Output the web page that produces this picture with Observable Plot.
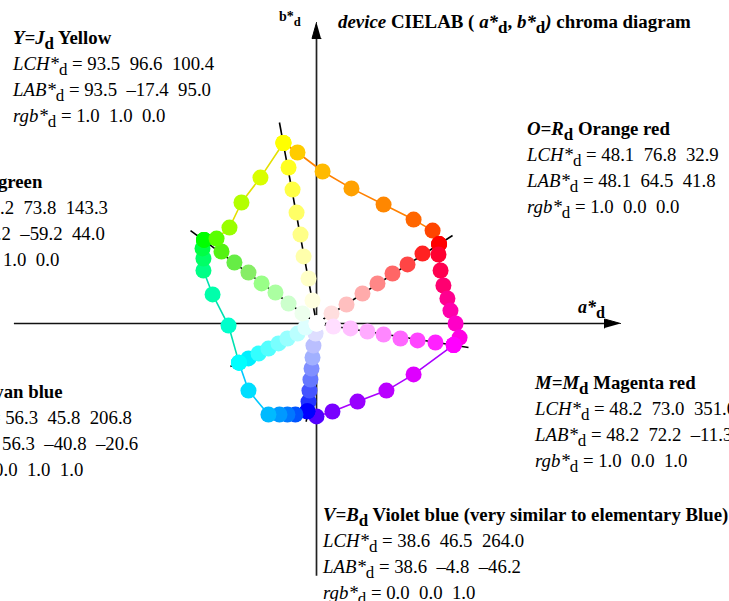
<!DOCTYPE html>
<html>
<head>
<meta charset="utf-8">
<script src="https://cdn.jsdelivr.net/npm/d3@7"></script>
<script src="https://cdn.jsdelivr.net/npm/@observablehq/plot@0.6"></script>
<style>
  body { margin: 0; background: #fff; }
  #chart { width: 729px; height: 601px; overflow: hidden; }
</style>
</head>
<body>
<div id="chart"></div>
<script>
// Device CIELAB chroma diagram (a*_d, b*_d).
// Every point: [a*, b*, r, g, b] with r, g, b the device colour rgb*_d.

// Outer edges between neighbouring device hues
const edgeYellowOrange = [
  [-17.4, 95.0, 1, 1, 0],
  [-10.0, 90.0, 1, 0.80, 0],
  [3.2, 80.0, 1, 0.73, 0],
  [18.4, 71.1, 1, 0.63, 0],
  [35.3, 62.6, 1, 0.53, 0],
  [51.1, 54.7, 1, 0.40, 0],
  [61.1, 48.9, 1, 0.27, 0],
  [64.5, 41.8, 1, 0, 0]
];
const edgeOrangeMagenta = [
  [64.5, 41.8, 1, 0, 0],
  [64.2, 36.3, 1, 0, 0.19],
  [65.3, 27.9, 1, 0, 0.31],
  [66.8, 20.0, 1, 0, 0.44],
  [68.9, 13.2, 1, 0, 0.56],
  [70.5, 6.8, 1, 0, 0.67],
  [73.2, 0.0, 1, 0, 0.78],
  [75.3, -7.4, 1, 0, 0.89],
  [72.2, -11.3, 1, 0, 1]
];
const edgeMagentaViolet = [
  [72.2, -11.3, 1, 0, 1],
  [51.1, -26.8, 0.87, 0, 1],
  [36.8, -35.3, 0.73, 0, 1],
  [21.6, -41.1, 0.60, 0, 1],
  [8.4, -46.3, 0.47, 0, 1],
  [0.0, -48.9, 0.33, 0, 1],
  [-4.8, -46.2, 0, 0, 1]
];
const edgeVioletCyan = [
  [-4.8, -46.2, 0, 0, 1],
  [-11.1, -47.9, 0, 0.33, 1],
  [-15.3, -47.9, 0, 0.47, 1],
  [-19.5, -47.9, 0, 0.60, 1],
  [-25.3, -47.9, 0, 0.73, 1],
  [-35.8, -35.3, 0, 0.87, 1],
  [-40.8, -20.6, 0, 1, 1]
];
const edgeCyanLeaf = [
  [-40.8, -20.6, 0, 1, 1],
  [-46.3, -1.1, 0, 1, 0.80],
  [-54.7, 15.3, 0, 1, 0.67],
  [-59.5, 27.9, 0, 1, 0.53],
  [-59.5, 34.2, 0, 1, 0.40],
  [-60.0, 39.5, 0, 1, 0.27],
  [-59.2, 44.0, 0, 1, 0]
];
const edgeLeafYellow = [
  [-59.2, 44.0, 0, 1, 0],
  [-52.6, 44.7, 0.35, 1, 0],
  [-45.8, 50.5, 0.60, 1, 0],
  [-39.5, 63.7, 0.70, 1, 0],
  [-29.5, 76.8, 0.85, 1, 0],
  [-17.4, 95.0, 1, 1, 0]
];

// Spokes from each device hue to white
const spokeYellow = [
  [-17.4, 95.0, 1, 1, 0],
  [-14.7, 82.1, 1, 1, 0.13],
  [-12.6, 70.5, 1, 1, 0.27],
  [-10.5, 58.4, 1, 1, 0.40],
  [-8.4, 46.8, 1, 1, 0.53],
  [-6.8, 35.3, 1, 1, 0.67],
  [-4.2, 23.7, 1, 1, 0.78],
  [-2.1, 12.1, 1, 1, 0.88],
  [0.0, 0.0, 1, 1, 1]
];
const spokeOrange = [
  [64.5, 41.8, 1, 0, 0],
  [55.8, 36.8, 1, 0.13, 0.13],
  [47.9, 31.1, 1, 0.27, 0.27],
  [40.0, 26.3, 1, 0.40, 0.40],
  [32.1, 21.1, 1, 0.53, 0.53],
  [24.2, 15.8, 1, 0.67, 0.67],
  [15.8, 10.0, 1, 0.75, 0.75],
  [7.9, 5.3, 1, 0.87, 0.87],
  [0.0, 0.0, 1, 1, 1]
];
const spokeMagenta = [
  [72.2, -11.3, 1, 0, 1],
  [62.6, -10.0, 1, 0.13, 1],
  [53.2, -8.9, 1, 0.27, 1],
  [44.2, -7.9, 1, 0.40, 1],
  [35.3, -5.8, 1, 0.53, 1],
  [26.8, -4.2, 1, 0.67, 1],
  [17.9, -2.6, 1, 0.75, 1],
  [8.9, -1.6, 1, 0.87, 1],
  [0.0, 0.0, 1, 1, 1]
];
const spokeViolet = [
  [-4.8, -46.2, 0, 0, 1],
  [-4.2, -41.1, 0.13, 0.20, 1],
  [-3.7, -35.3, 0.27, 0.33, 1],
  [-3.2, -29.5, 0.40, 0.47, 1],
  [-2.6, -23.7, 0.50, 0.56, 1],
  [-2.1, -17.9, 0.63, 0.69, 1],
  [-1.6, -11.6, 0.73, 0.75, 1],
  [-0.5, -5.3, 0.87, 0.87, 1],
  [0.0, 0.0, 1, 1, 1]
];
const spokeCyan = [
  [-40.8, -20.6, 0, 1, 1],
  [-35.8, -18.4, 0, 0.94, 1],
  [-30.5, -15.8, 0.20, 1, 1],
  [-25.3, -13.2, 0.33, 1, 1],
  [-20.0, -10.5, 0.47, 1, 1],
  [-15.3, -7.9, 0.60, 1, 1],
  [-10.0, -5.3, 0.73, 1, 1],
  [-5.8, -2.1, 0.87, 1, 1],
  [0.0, 0.0, 1, 1, 1]
];
const spokeLeaf = [
  [-59.2, 44.0, 0, 1, 0],
  [-50.0, 37.9, 0.33, 0.95, 0.07],
  [-43.2, 32.1, 0.40, 0.93, 0.27],
  [-35.8, 26.8, 0.53, 0.93, 0.40],
  [-28.9, 21.1, 0.60, 1, 0.53],
  [-21.6, 16.3, 0.67, 1, 0.63],
  [-14.7, 10.5, 0.80, 1, 0.80],
  [-7.4, 5.3, 0.93, 1, 0.93],
  [0.0, 0.0, 1, 1, 1]
];

// Hue lines from the origin through each device hue (end point a*, b*)
const hueLineEnds = [
  [-19.5, 105.8], [71.6, 46.3], [80.0, -12.6],
  [-5.4, -51.7], [-45.3, -22.6], [-66.3, 48.9]
];

// Edge line colours, in the order of the edges above
const edgeColors = ["#ff8000", "#ff0080", "#aa00ff", "#00c8ff", "#00e0b0", "#e4e000"];

// Axis extents (a*, b*)
const aAxis = [-159, 160];
const bAxis = [-133, 158.4];

// Text blocks: code, name, LCH*, LAB*, rgb*
const labelYellow  = ["Y=J", "Yellow", "93.5  96.6  100.4", "93.5  \u201317.4  95.0", "1.0  1.0  0.0"];
const labelOrange  = ["O=R", "Orange red", "48.1  76.8  32.9", "48.1  64.5  41.8", "1.0  0.0  0.0"];
const labelMagenta = ["M=M", "Magenta red", "48.2  73.0  351.0", "48.2  72.2  \u201311.3", "1.0  0.0  1.0"];
const labelViolet  = ["V=B", "Violet blue (very similar to elementary Blue)", "38.6  46.5  264.0", "38.6  \u20134.8  \u201346.2", "0.0  0.0  1.0"];
const labelCyan    = ["C=C", "Cyan blue", "56.3  45.8  206.8", "56.3  \u201340.8  \u201320.6", "0.0  1.0  1.0"];
const labelLeaf    = ["L=G", "Leaf green", "50.2  73.8  143.3", "50.2  \u201359.2  44.0", "0.0  1.0  0.0"];

const edges = [edgeYellowOrange, edgeOrangeMagenta, edgeMagentaViolet, edgeVioletCyan, edgeCyanLeaf, edgeLeafYellow];
const spokes = [spokeYellow, spokeOrange, spokeMagenta, spokeViolet, spokeCyan, spokeLeaf];

const toColor = d => `rgb(${Math.round(d[2] * 255)},${Math.round(d[3] * 255)},${Math.round(d[4] * 255)})`;

// pixels per CIELAB unit on both axes
const unit = 1.9;
const W = 729, H = 601;
const originPx = [316, 323];
const xDomain = [-originPx[0] / unit, (W - originPx[0]) / unit];
const yDomain = [-(H - originPx[1]) / unit, originPx[1] / unit];

// filled arrowheads at the positive ends of the axes
const headLen = 16 / unit, headHalf = 4.5 / unit;
const arrowHeads = [
  {id: "a", pts: [[aAxis[1], 0], [aAxis[1] - headLen, headHalf], [aAxis[1] - headLen, -headHalf]]},
  {id: "b", pts: [[0, bAxis[1]], [-headHalf, bAxis[1] - headLen], [headHalf, bAxis[1] - headLen]]}
].flatMap(h => h.pts.map(p => ({id: h.id, x: p[0], y: p[1]})));

const spokeDots = spokes.flat();
const edgeDots = edges.flat();

const plot = Plot.plot({
  width: W,
  height: H,
  margin: 0,
  x: {domain: xDomain, axis: null},
  y: {domain: yDomain, axis: null},
  marks: [
    Plot.ruleY([0], {x1: aAxis[0], x2: aAxis[1] - headLen, stroke: "#111", strokeWidth: 1.7}),
    Plot.ruleX([0], {y1: bAxis[0], y2: bAxis[1] - headLen, stroke: "#222", strokeWidth: 1.7}),
    Plot.line(arrowHeads, {x: "x", y: "y", z: "id", fill: "#000", stroke: "#000", strokeWidth: 1}),
    Plot.link(hueLineEnds, {x1: 0, y1: 0, x2: d => d[0], y2: d => d[1], stroke: "#000", strokeWidth: 1.6}),
    ...edges.map((e, i) => Plot.line(e, {x: d => d[0], y: d => d[1], stroke: edgeColors[i], strokeWidth: 1.6})),
    Plot.dot(spokeDots, {x: d => d[0], y: d => d[1], r: 8, fill: toColor, stroke: null}),
    Plot.dot(edgeDots, {x: d => d[0], y: d => d[1], r: 8, fill: toColor, stroke: null})
  ]
});

document.getElementById("chart").appendChild(plot);

// Rich text (italics, bold, subscripts) added on top of the plot
const svg = d3.select(plot);
const g = svg.append("g")
  .attr("font-family", "'Liberation Serif', 'Times New Roman', serif")
  .attr("fill", "#000");

function richText(x, y, parts, size, anchor = "start") {
  const t = g.append("text")
    .attr("x", x).attr("y", y)
    .attr("font-size", size)
    .attr("text-anchor", anchor)
    .style("white-space", "pre");
  let shift = 0;
  for (const [s, st = ""] of parts) {
    const ts = t.append("tspan").text(s);
    if (st.includes("i")) ts.attr("font-style", "italic");
    if (st.includes("b")) ts.attr("font-weight", "bold");
    const want = st.includes("s") ? 5 : 0;
    if (want !== shift) { ts.attr("dy", want - shift); shift = want; }
    if (st.includes("s")) ts.attr("font-size", size * 0.9);
  }
  return t;
}

const fontSize = 18.8;
const lineGap = 26;
function block(x, y, info, rightOfLine2) {
  const lines = [
    [[info[0], "bi"], ["d", "bs"], [" " + info[1], "b"]],
    [["LCH*", "i"], ["d", "s"], [" = " + info[2]]],
    [["LAB*", "i"], ["d", "s"], [" = " + info[3]]],
    [["rgb*", "i"], ["d", "s"], [" = " + info[4]]]
  ];
  const nodes = lines.map((p, i) => richText(x, y + i * lineGap, p, fontSize));
  if (rightOfLine2 !== undefined) {
    // block partly outside the left edge: place it so line 2 ends at the given x
    const w = nodes[1].node().getComputedTextLength();
    nodes.forEach(n => n.attr("x", rightOfLine2 - w));
  }
}

block(13, 44, labelYellow);
block(527, 135, labelOrange);
block(535, 389, labelMagenta);
block(323, 521, labelViolet);
block(0, 188, labelLeaf, 108);
block(0, 398, labelCyan, 132);

// axis labels and title
richText(279, 21, [["b*", "b"], ["d", "bs"]], 14);
richText(578, 313, [["a*", "bi"], ["d", "bs"]], 18);
richText(338, 28, [["device", "bi"], [" CIELAB ( ", "b"], ["a*", "bi"], ["d", "bs"], [", ", "b"],
  ["b*", "bi"], ["d", "bs"], [")", "bi"], [" chroma diagram", "b"]], 18.9);
</script>
</body>
</html>
